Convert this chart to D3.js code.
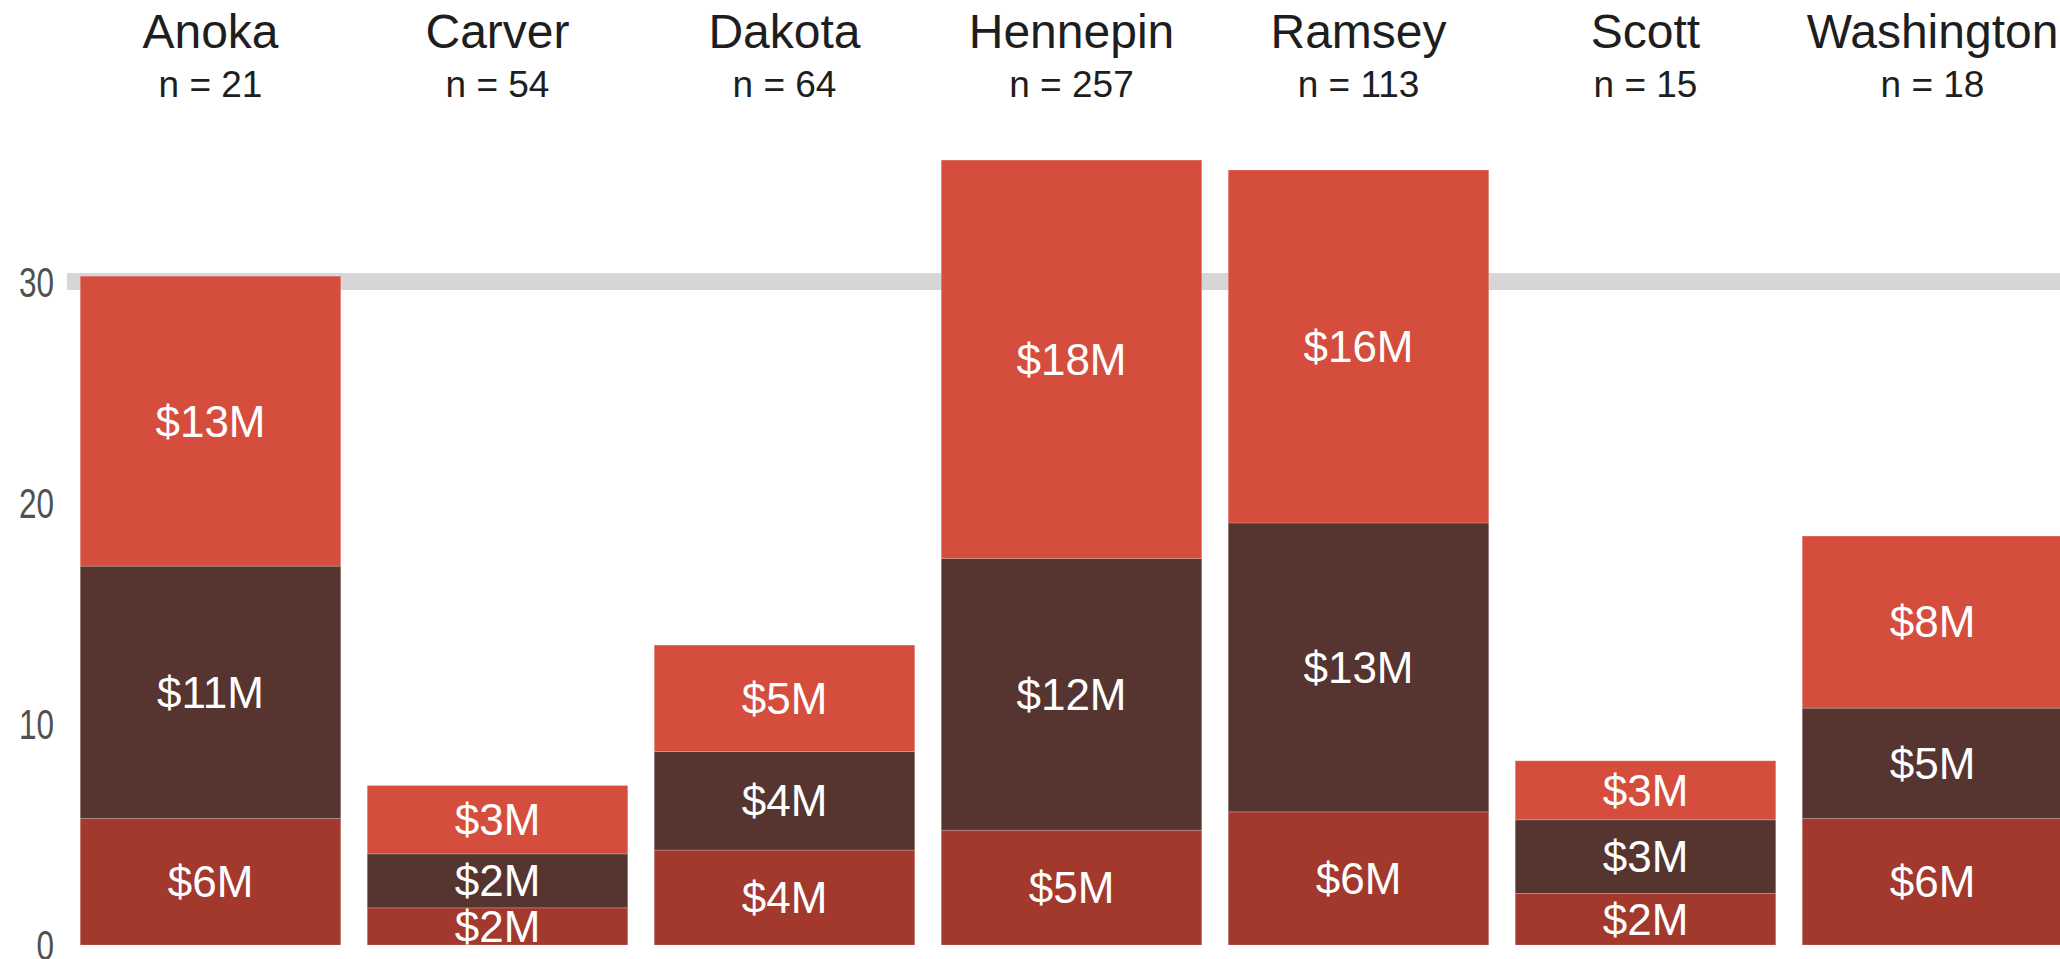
<!DOCTYPE html>
<html>
<head>
<meta charset="utf-8">
<script src="https://cdn.jsdelivr.net/npm/d3@7"></script>
<style>
  html, body { margin: 0; padding: 0; background: #ffffff; overflow: hidden; }
  svg { display: block; }
</style>
</head>
<body>
<svg id="chart" width="2060" height="959"></svg>
<script>
// ---- data ----
const counties = ["Anoka", "Carver", "Dakota", "Hennepin", "Ramsey", "Scott", "Washington"];
const counts   = [21, 54, 64, 257, 113, 15, 18];
const seriesKeys = ["part1", "part2", "part3"];          // bottom → top
const part1 = [5.72, 1.68, 4.29, 5.19, 6.02, 2.33, 5.72];
const part2 = [11.41, 2.44, 4.46, 12.29, 13.06, 3.33, 4.99];
const part3 = [13.11, 3.09, 4.81, 18.01, 15.96, 2.67, 7.78];
const yTicks = [0, 10, 20, 30];
const refLine = [30];

// ---- setup ----
const W = 2060, H = 959;
const svg = d3.select("#chart");
const colors = { part1: "#a3392d", part2: "#563530", part3: "#d54e3d" };

const rows = counties.map((c, i) => ({ county: c, n: counts[i], part1: part1[i], part2: part2[i], part3: part3[i] }));
const stacked = d3.stack().keys(seriesKeys)(rows);

const x = d3.scaleBand().domain(counties).range([67, 2076]).paddingInner(0.0923).paddingOuter(0.04615);
const y = d3.scaleLinear().domain([0, 30]).range([945, 281.5]);

// reference gridline
svg.append("g").selectAll("rect").data(refLine).join("rect")
  .attr("x", x.range()[0]).attr("width", x.range()[1] - x.range()[0])
  .attr("y", d => y(d) - 8.5).attr("height", 17)
  .attr("fill", "#d6d6d6");

// y tick labels (condensed)
svg.append("g").selectAll("text").data(yTicks).join("text")
  .attr("transform", d => `translate(54,${y(d)}) scale(0.75,1)`)
  .attr("text-anchor", "end")
  .attr("dy", "0.36em")
  .attr("font-family", "'Liberation Sans', Arial, sans-serif")
  .attr("font-size", 42)
  .attr("fill", "#505050")
  .text(d => d);

// bars
const layers = svg.append("g").selectAll("g").data(stacked).join("g")
  .attr("fill", d => colors[d.key]);
layers.selectAll("rect").data(d => d).join("rect")
  .attr("x", d => x(d.data.county))
  .attr("width", x.bandwidth())
  .attr("y", d => y(d[1]))
  .attr("height", d => y(d[0]) - y(d[1]))
  .attr("stroke", "rgba(255,255,255,0.18)")
  .attr("stroke-width", 1);

// value labels
const fmt = v => "$" + Math.round(v) + "M";
svg.append("g").selectAll("g").data(stacked).join("g")
  .selectAll("text").data(d => d).join("text")
  .attr("x", d => x(d.data.county) + x.bandwidth() / 2)
  .attr("y", d => (y(d[0]) + y(d[1])) / 2)
  .attr("dy", "0.35em")
  .attr("text-anchor", "middle")
  .attr("font-family", "'Liberation Sans', Arial, sans-serif")
  .attr("font-size", 44)
  .attr("fill", "#ffffff")
  .text(d => fmt(d[1] - d[0]));

// top category labels
const heads = svg.append("g").selectAll("g").data(rows).join("g")
  .attr("transform", d => `translate(${x(d.county) + x.bandwidth() / 2},0)`);
heads.append("text")
  .attr("y", 48)
  .attr("text-anchor", "middle")
  .attr("font-family", "'Liberation Sans', Arial, sans-serif")
  .attr("font-size", 48)
  .attr("fill", "#1e1e1e")
  .text(d => d.county);
heads.append("text")
  .attr("y", 97)
  .attr("text-anchor", "middle")
  .attr("font-family", "'Liberation Sans', Arial, sans-serif")
  .attr("font-size", 37)
  .attr("fill", "#1e1e1e")
  .text(d => "n = " + d.n);
</script>
</body>
</html>
